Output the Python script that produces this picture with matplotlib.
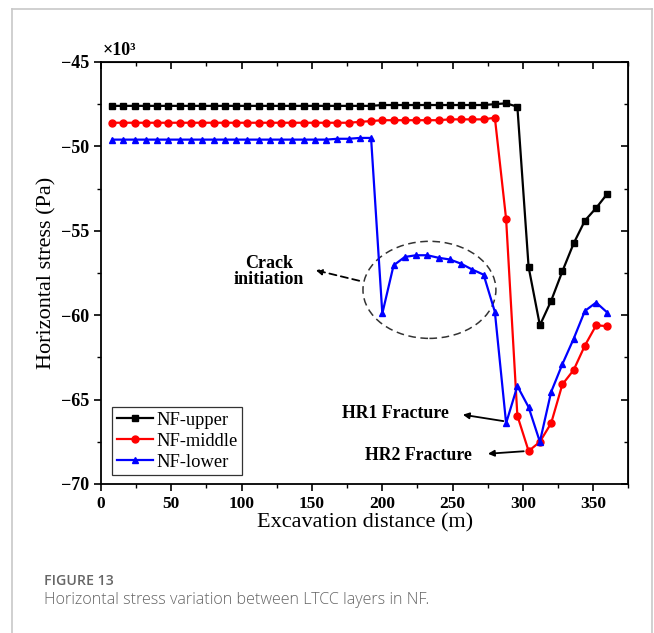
import matplotlib

matplotlib.use("Agg")
import matplotlib.pyplot as plt  # noqa: E402
from matplotlib.lines import Line2D  # noqa: E402
from matplotlib.patches import Ellipse  # noqa: E402
from matplotlib.ticker import MultipleLocator  # noqa: E402

# excavation distance (m)
distance = [
    8, 16, 24, 32, 40, 48, 56, 64, 72, 80, 88, 96, 104, 112, 120,
    128, 136, 144, 152, 160, 168, 176, 184, 192, 200, 208, 216, 224, 232, 240,
    248, 256, 264, 272, 280, 288, 296, 304, 312, 320, 328, 336, 344, 352, 360,
]

# horizontal stress, x10^3 Pa
nf_upper = [
    -47.6, -47.6, -47.6, -47.6, -47.6, -47.6, -47.6, -47.6, -47.6, -47.6,
    -47.6, -47.6, -47.6, -47.6, -47.6, -47.6, -47.6, -47.6, -47.6, -47.6,
    -47.6, -47.6, -47.6, -47.6, -47.55, -47.55, -47.55, -47.55, -47.55, -47.55,
    -47.55, -47.55, -47.55, -47.55, -47.5, -47.45, -47.65, -57.15, -60.6, -59.15,
    -57.4, -55.75, -54.4, -53.65, -52.8,
]
nf_middle = [
    -48.6, -48.6, -48.6, -48.6, -48.6, -48.6, -48.6, -48.6, -48.6, -48.6,
    -48.6, -48.6, -48.6, -48.6, -48.6, -48.6, -48.6, -48.6, -48.6, -48.6,
    -48.6, -48.6, -48.55, -48.5, -48.45, -48.45, -48.45, -48.45, -48.45, -48.45,
    -48.4, -48.4, -48.4, -48.4, -48.3, -54.3, -65.95, -68.05, -67.5, -66.4,
    -64.1, -63.25, -61.8, -60.6, -60.65,
]
nf_lower = [
    -49.6, -49.6, -49.6, -49.6, -49.6, -49.6, -49.6, -49.6, -49.6, -49.6,
    -49.6, -49.6, -49.6, -49.6, -49.6, -49.6, -49.6, -49.6, -49.6, -49.6,
    -49.55, -49.55, -49.5, -49.5, -59.9, -57.05, -56.55, -56.45, -56.45, -56.6,
    -56.7, -56.95, -57.3, -57.6, -59.8, -66.4, -64.2, -65.45, -67.5, -64.55,
    -62.9, -61.4, -59.75, -59.25, -59.85,
]

SERIES = [
    ("NF-upper", nf_upper, "black", "s"),
    ("NF-middle", nf_middle, "red", "o"),
    ("NF-lower", nf_lower, "blue", "^"),
]

SERIF = "Liberation Serif"
CAPTION_FONT = "Open Sans"

fig = plt.figure(figsize=(6.54, 6.33), dpi=100)
ax = fig.add_axes([0.1544, 0.2354, 0.8066, 0.6667])

for label, values, color, marker in SERIES:
    ax.plot(distance, values, color=color, marker=marker, markersize=5,
            linewidth=1.6, label=label)

ax.set_xlim(0, 375)
ax.set_ylim(-70, -45)
ax.xaxis.set_major_locator(MultipleLocator(50))
ax.xaxis.set_minor_locator(MultipleLocator(25))
ax.yaxis.set_major_locator(MultipleLocator(5))
ax.yaxis.set_minor_locator(MultipleLocator(2.5))
ax.tick_params(which="major", direction="out", length=5, width=1.2)
ax.tick_params(which="minor", direction="out", length=3, width=1.0)
for spine in ax.spines.values():
    spine.set_linewidth(1.3)

for lab in ax.get_xticklabels():
    lab.set_fontfamily(SERIF)
    lab.set_fontweight("bold")
    lab.set_fontsize(12.5)
for lab in ax.get_yticklabels():
    lab.set_fontfamily(SERIF)
    lab.set_fontweight("bold")
    lab.set_fontsize(13)

# mirrored inward ticks on the top and right
top = ax.secondary_xaxis("top")
top.xaxis.set_major_locator(MultipleLocator(50))
top.xaxis.set_minor_locator(MultipleLocator(25))
top.tick_params(which="major", direction="in", length=5, width=1.2, labeltop=False)
top.tick_params(which="minor", direction="in", length=3, width=1.0)
right = ax.secondary_yaxis("right")
right.yaxis.set_major_locator(MultipleLocator(5))
right.yaxis.set_minor_locator(MultipleLocator(2.5))
right.tick_params(which="major", direction="in", length=5, width=1.2, labelright=False)
right.tick_params(which="minor", direction="in", length=3, width=1.0)

ax.set_xlabel("Excavation distance (m)", fontfamily=SERIF, fontsize=16, labelpad=1)
ax.set_ylabel("Horizontal stress (Pa)", fontfamily=SERIF, fontsize=16, labelpad=3)
ax.text(0.004, 1.008, "×10³", transform=ax.transAxes, fontfamily=SERIF,
        fontweight="bold", fontsize=13, ha="left", va="bottom")

leg = ax.legend(loc="upper left", bbox_to_anchor=(0.021, 0.1825), borderaxespad=0,
                prop={"family": SERIF, "size": 13.3}, frameon=True, fancybox=False,
                edgecolor="black", handlelength=1.95, handletextpad=0.2,
                labelspacing=0.22, borderpad=0.25)
leg.get_frame().set_linewidth(0.9)

# crack initiation region
ax.add_patch(Ellipse((233.5, -58.5), 94.5, 5.75, fill=False, edgecolor="#333333",
                     linestyle=(0, (5, 3)), linewidth=1.1))
ax.annotate("", xy=(150.8, -57.3), xytext=(185.5, -58.0),
            arrowprops=dict(arrowstyle="-|>", linestyle=(0, (4, 2.5)), color="black",
                            lw=1.3, mutation_scale=9))
ax.text(119.5, -57.4, "Crack\ninitiation", fontfamily=SERIF, fontweight="bold",
        fontsize=13, ha="center", va="center", linespacing=0.95)

# fracture annotations
ax.annotate("", xy=(255.3, -65.87), xytext=(288, -66.3),
            arrowprops=dict(arrowstyle="-|>", color="black", lw=1.3, mutation_scale=9))
ax.text(209.5, -65.85, "HR1 Fracture", fontfamily=SERIF, fontweight="bold",
        fontsize=12.8, ha="center", va="center")
ax.annotate("", xy=(273.1, -68.22), xytext=(302.5, -68.05),
            arrowprops=dict(arrowstyle="-|>", color="black", lw=1.3, mutation_scale=9))
ax.text(225.5, -68.34, "HR2 Fracture", fontfamily=SERIF, fontweight="bold",
        fontsize=12.8, ha="center", va="center")

# page frame and caption
W, H = 654, 633
frame_color = "#c8c8c8"
fig.add_artist(Line2D([12 / W, 12 / W], [0, 1 - 9 / H], color=frame_color, lw=1.2))
fig.add_artist(Line2D([12 / W, 652 / W], [1 - 9 / H, 1 - 9 / H], color=frame_color, lw=1.2))
fig.add_artist(Line2D([652 / W, 652 / W], [0, 1 - 9 / H], color=frame_color, lw=1.2))

fig.text(44 / W, 1 - 581 / H, "FIGURE 13", fontfamily=CAPTION_FONT, fontweight="semibold",
         fontsize=10.2, color="#666666", ha="left", va="center")
fig.text(44 / W, 1 - 600 / H, "Horizontal stress variation between LTCC layers in NF.",
         fontfamily=CAPTION_FONT, fontweight="light", fontsize=11.6, color="#646464",
         ha="left", va="center")

fig.savefig("out.png", dpi=100)
